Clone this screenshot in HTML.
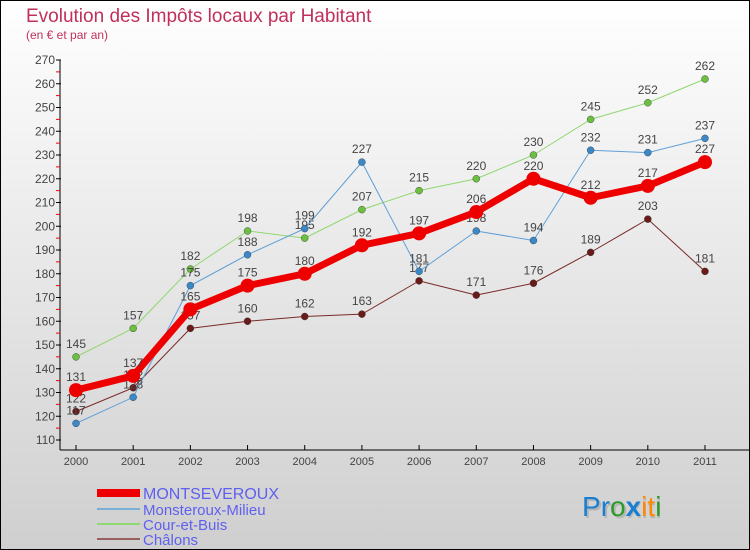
<!DOCTYPE html>
<html><head><meta charset="utf-8"><style>
body{margin:0}
#c{width:750px;height:550px;position:relative;overflow:hidden}
svg{display:block;font-family:"Liberation Sans",sans-serif}
</style></head><body>
<div id="c">
<svg id="s" width="750" height="550" xmlns="http://www.w3.org/2000/svg">
<defs><linearGradient id="bg" x1="0" y1="0" x2="0" y2="1"><stop offset="0" stop-color="#ffffff"/><stop offset="1" stop-color="#cfcfcf"/></linearGradient></defs>
<rect x="0.5" y="0.5" width="749" height="549" fill="url(#bg)" stroke="#000"/>
<text x="26" y="22" font-size="19" fill="#c0305a">Evolution des Impôts locaux par Habitant</text>
<text x="26" y="39" font-size="12" fill="#c0305a">(en € et par an)</text>
<g id="axes"></g><g id="series"></g><g id="legend"></g>
<g font-size="28">
<text x="584" y="518" fill="#999" opacity="0.5"><tspan>Proxiti</tspan></text>
<text x="582" y="516"><tspan fill="#1a7fd0">P</tspan><tspan fill="#1a7fd0">r</tspan><tspan fill="#2a9a2a">o</tspan><tspan fill="#1a7fd0" font-weight="bold">x</tspan><tspan fill="#ff8800">i</tspan><tspan fill="#ff8800">t</tspan><tspan fill="#2a9a2a">i</tspan></text>
</g>
</svg>
</div>
<script>
const years=["2000","2001","2002","2003","2004","2005","2006","2007","2008","2009","2010","2011"];
const montseveroux=[131,137,165,175,180,192,197,206,220,212,217,227];
const monsteroux=[117,128,175,188,199,227,181,198,194,232,231,237];
const cour=[145,157,182,198,195,207,215,220,230,245,252,262];
const chalons=[122,132,157,160,162,163,177,171,176,189,203,181];
const yTicks=[110,120,130,140,150,160,170,180,190,200,210,220,230,240,250,260,270];
const names=["MONTSEVEROUX","Monsteroux-Milieu","Cour-et-Buis","Châlons"];
const NS="http://www.w3.org/2000/svg";
const X=i=>76+i*(705-76)/11;
const Y=v=>440-(v-110)*(380/160);
function mk(tag,at,parent){const e=document.createElementNS(NS,tag);for(const k in at)e.setAttribute(k,at[k]);parent.appendChild(e);return e;}
const ax=document.getElementById('axes');
let e=mk('line',{x1:60,y1:Y(270),x2:60,y2:450,stroke:'#000'},ax);


e=mk('line',{x1:60,y1:450,x2:750,y2:450,stroke:'#000'},ax);


yTicks.forEach(v=>{
 mk('line',{x1:56,y1:Y(v),x2:61,y2:Y(v),stroke:'#000'},ax);
 if(v<270)mk('line',{x1:56,y1:Y(v+5),x2:60,y2:Y(v+5),stroke:'#e00'},ax);
 const t=mk('text',{x:55,y:Y(v)+4,'font-size':12,'text-anchor':'end',fill:'#444'},ax);t.textContent=v;
 
 
});
years.forEach((y,i)=>{
 mk('line',{x1:X(i),y1:445,x2:X(i),y2:450,stroke:'#000'},ax);
 const t=mk('text',{x:X(i),y:465,'font-size':11,'text-anchor':'middle',fill:'#444'},ax);t.textContent=y;
 
 
});
const sg=document.getElementById('series');
const defs=[[chalons,'#7a2a2a','#6b1a1a',1,3.5,'chalons'],[cour,'#90d870','#6cc040',1,3.5,'cour-et-buis'],[monsteroux,'#60a0d8','#3a88c8',1,3.5,'monsteroux-milieu'],[montseveroux,'#ee0000','#ee0000',7,7,'montseveroux']];
defs.forEach(([d,c,dc,w,r,n])=>{
 const g=mk('g',{},sg);
 
 
 const p=mk('polyline',{points:d.map((v,i)=>X(i)+','+Y(v)).join(' '),fill:'none',stroke:c,'stroke-width':w,'stroke-linejoin':'round'},g);
 
 
 d.forEach((v,i)=>{
  const ci=mk('circle',{cx:X(i),cy:Y(v),r:r,fill:dc,stroke:r<5?'#333':'none','stroke-width':0.4},g);
  
  
  const t=mk('text',{x:X(i),y:Y(v)-9,'font-size':12,'text-anchor':'middle',fill:'#444'},g);t.textContent=v;
  
  
 });
});
const lg=document.getElementById('legend');
const lc=['#ee0000','#7ab0d8','#90d870','#9a6060'],lw=[8,2,2,2],ly=[493,509,524,539];
names.forEach((n,i)=>{
 const g=mk('g',{},lg);
 
 
 mk('line',{x1:97,y1:ly[i],x2:140,y2:ly[i],stroke:lc[i],'stroke-width':lw[i]},g);
 const t=mk('text',{x:143,y:ly[i]+6,'font-size':i==0?16:15,fill:'#6060f0'},g);t.textContent=n;
});
</script>
</body></html>
